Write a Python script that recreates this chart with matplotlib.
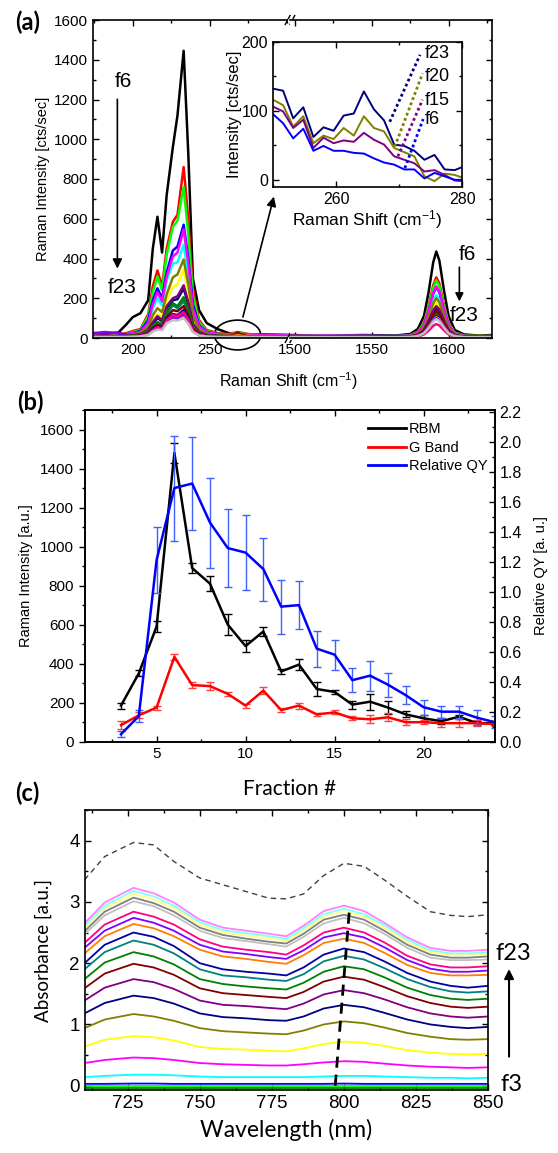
import matplotlib
matplotlib.use("Agg")
import matplotlib.pyplot as plt
from matplotlib.patches import Ellipse
from matplotlib.lines import Line2D
from matplotlib.ticker import MultipleLocator, FixedLocator, FormatStrFormatter

plt.rcParams['font.family'] = ['Liberation Sans', 'DejaVu Sans']
plt.rcParams['mathtext.fontset'] = 'custom'
plt.rcParams['mathtext.rm'] = 'Liberation Sans'
plt.rcParams['mathtext.it'] = 'Liberation Sans:italic'
CAL = ['Lato', 'DejaVu Sans']

# ---------------- (a) Raman spectra, fractions f6..f23 ----------------
raman_fracs = ['f6', 'f7', 'f8', 'f9', 'f10', 'f11', 'f12', 'f13', 'f14',
               'f15', 'f16', 'f17', 'f18', 'f19', 'f20', 'f21', 'f22', 'f23']
rbm_shift = [175, 182, 190, 196, 200, 205, 210, 213, 216, 219, 222, 226,
             229, 233, 236, 239, 243, 248, 255, 262, 268, 275, 285, 302]
rbm_spectra = [
    [18, 22, 22, 70, 105, 125, 190, 450, 610, 430, 720, 960, 1120, 1445, 930, 300, 140, 75, 45, 25, 20, 15, 18, 15],
    [15, 12, 15, 25, 35, 45, 120, 260, 340, 260, 450, 585, 620, 860, 600, 250, 90, 40, 25, 20, 30, 20, 15, 15],
    [12, 15, 12, 20, 30, 40, 110, 230, 310, 240, 420, 560, 590, 760, 520, 215, 80, 35, 22, 18, 25, 18, 12, 15],
    [10, 12, 15, 18, 25, 35, 90, 190, 250, 200, 330, 440, 460, 570, 400, 170, 65, 30, 20, 15, 20, 15, 12, 10],
    [12, 10, 12, 15, 20, 28, 70, 150, 200, 165, 290, 375, 380, 470, 320, 130, 50, 25, 18, 15, 18, 12, 10, 10],
    [20, 15, 18, 20, 25, 30, 80, 170, 230, 185, 310, 410, 430, 545, 380, 150, 60, 28, 20, 18, 22, 15, 15, 12],
    [10, 10, 12, 12, 15, 20, 45, 95, 120, 110, 190, 255, 270, 345, 230, 90, 35, 18, 12, 10, 12, 10, 8, 8],
    [10, 12, 10, 12, 18, 25, 55, 115, 150, 130, 220, 305, 320, 395, 270, 110, 42, 22, 15, 12, 15, 10, 10, 8],
    [10, 8, 10, 12, 12, 15, 35, 72, 100, 85, 150, 190, 195, 250, 170, 68, 28, 14, 10, 8, 10, 8, 8, 8],
    [25, 20, 28, 15, 15, 18, 40, 80, 110, 90, 160, 200, 210, 265, 180, 72, 30, 15, 10, 10, 12, 8, 8, 8],
    [8, 8, 8, 10, 10, 14, 28, 55, 70, 65, 120, 165, 150, 185, 130, 52, 22, 12, 8, 8, 12, 8, 6, 6],
    [10, 8, 10, 10, 12, 15, 30, 60, 80, 70, 130, 175, 160, 205, 140, 56, 24, 12, 8, 8, 8, 6, 6, 6],
    [8, 8, 8, 8, 10, 12, 25, 50, 65, 58, 105, 140, 135, 160, 115, 46, 20, 10, 8, 6, 25, 6, 6, 6],
    [6, 6, 6, 8, 8, 10, 22, 44, 60, 52, 95, 120, 115, 140, 100, 40, 18, 10, 6, 6, 6, 5, 5, 5],
    [5, 5, 5, 6, 6, 8, 16, 35, 45, 42, 80, 98, 95, 110, 78, 32, 14, 8, 5, 5, 15, 5, 5, 5],
    [25, 30, 25, 6, 8, 10, 18, 38, 50, 45, 85, 105, 100, 120, 85, 35, 15, 8, 6, 5, 6, 5, 5, 5],
    [6, 6, 6, 6, 8, 10, 20, 40, 55, 48, 90, 115, 110, 130, 92, 38, 16, 8, 6, 5, 6, 5, 5, 5],
    [5, 5, 5, 5, 6, 8, 15, 32, 42, 40, 75, 90, 88, 100, 72, 30, 13, 7, 5, 5, 5, 5, 5, 5],
]
g_shift = [1497, 1520, 1545, 1565, 1575, 1580, 1584, 1587, 1590, 1592, 1594,
           1597, 1600, 1604, 1610, 1620, 1628]
g_spectra = [
    [15, 12, 15, 12, 20, 45, 110, 230, 380, 435, 390, 240, 110, 40, 18, 12, 15],
    [12, 10, 12, 10, 15, 32, 78, 162, 265, 305, 275, 168, 78, 28, 12, 10, 10],
    [10, 12, 10, 10, 14, 30, 74, 155, 252, 290, 261, 160, 74, 27, 12, 10, 10],
    [10, 10, 12, 10, 12, 26, 64, 135, 222, 255, 230, 140, 64, 23, 10, 8, 10],
    [8, 10, 8, 8, 10, 22, 54, 114, 187, 215, 194, 118, 54, 20, 9, 8, 8],
    [10, 12, 10, 8, 12, 26, 65, 138, 226, 260, 234, 143, 65, 24, 10, 8, 10],
    [8, 8, 8, 8, 9, 18, 44, 93, 152, 175, 158, 96, 44, 16, 8, 6, 8],
    [8, 8, 10, 8, 10, 20, 50, 106, 174, 200, 180, 110, 50, 18, 8, 6, 8],
    [6, 8, 6, 6, 8, 15, 38, 80, 130, 150, 135, 83, 38, 14, 6, 5, 6],
    [8, 6, 8, 6, 8, 16, 40, 85, 139, 160, 144, 88, 40, 15, 7, 5, 6],
    [6, 6, 6, 5, 7, 13, 33, 69, 113, 130, 117, 72, 33, 12, 6, 5, 5],
    [6, 5, 6, 5, 6, 13, 31, 66, 109, 125, 113, 69, 31, 11, 6, 5, 5],
    [5, 6, 5, 5, 7, 14, 34, 72, 117, 135, 122, 74, 34, 12, 6, 5, 5],
    [5, 5, 5, 5, 6, 11, 28, 58, 96, 110, 99, 61, 28, 10, 5, 4, 5],
    [5, 5, 5, 4, 5, 11, 26, 56, 91, 105, 95, 58, 26, 10, 5, 4, 5],
    [5, 4, 5, 4, 5, 10, 25, 53, 87, 100, 90, 55, 25, 9, 4, 4, 4],
    [4, 4, 4, 3, 4, 7, 18, 37, 61, 70, 63, 39, 18, 6, 3, 3, 3],
    [4, 4, 4, 4, 5, 9, 24, 50, 83, 95, 86, 52, 24, 9, 4, 4, 4],
]
raman_colors = ['black', '#FF0000', '#00FF00', '#0000FF', '#00FFFF', '#FF00FF',
                '#FFFF00', '#808000', '#000080', '#800080', '#008080', '#008000',
                '#800000', '#0000A0', '#FF8000', '#8000FF', '#FF0080', '#C0C0C0']

# inset: zoom of the 250-280 region
inset_shift = [250, 251.6, 253.2, 254.8, 256.4, 258.0, 259.6, 261.2, 262.8, 264.4,
               266.0, 267.6, 269.2, 270.8, 272.4, 274.0, 275.6, 277.2, 278.8, 280.4]
inset_labels = ['f23', 'f20', 'f15', 'f6']
inset_f23 = [132, 129, 89, 105, 62, 76, 71, 93, 96, 128, 102, 86, 51, 49, 42, 29, 36, 15, 14, 20]
inset_f20 = [116, 108, 77, 92, 53, 64, 59, 75, 64, 92, 75, 70, 46, 40, 34, 5, -2, 9, 7, 2]
inset_f15 = [106, 99, 75, 87, 46, 61, 53, 57, 55, 68, 58, 51, 34, 29, 24, 12, 14, 7, -1, -2]
inset_f6 = [95, 82, 60, 74, 42, 49, 42, 42, 39, 38, 31, 25, 22, 15, 15, 2, 10, 5, 0, 0]
inset_colors = ['#000080', '#808000', '#800080', '#0000FF']

# ---------------- (b) intensities vs fraction ----------------
fraction = [3, 4, 5, 6, 7, 8, 9, 10, 11, 12, 13, 14, 15, 16, 17, 18, 19, 20, 21, 22, 23, 24]
rbm_int = [185, 350, 590, 1480, 890, 810, 600, 490, 565, 360, 395, 270, 255, 190, 205, 175, 140, 120, 105, 128, 95, 95]
rbm_err = [15, 15, 30, 50, 25, 40, 55, 30, 25, 15, 30, 35, 10, 20, 40, 35, 15, 15, 15, 10, 10, 10]
g_int = [85, 135, 175, 435, 290, 285, 245, 185, 262, 162, 185, 140, 150, 120, 115, 125, 100, 100, 95, 95, 95, 90]
g_err = [20, 15, 10, 15, 15, 20, 10, 10, 20, 10, 15, 8, 10, 10, 20, 20, 15, 10, 20, 20, 15, 10]
qy = [0.05, 0.17, 1.21, 1.69, 1.72, 1.46, 1.29, 1.26, 1.15, 0.90, 0.91, 0.62, 0.58, 0.41, 0.44, 0.38, 0.31, 0.23, 0.20, 0.20, 0.16, 0.13]
qy_err = [0.02, 0.04, 0.22, 0.35, 0.31, 0.30, 0.26, 0.25, 0.21, 0.18, 0.16, 0.12, 0.10, 0.08, 0.10, 0.08, 0.06, 0.05, 0.04, 0.04, 0.05, 0.04]

# ---------------- (c) absorbance, fractions f3..f23 ----------------
wavelength = [710, 717, 727, 734, 741, 750, 758, 766, 774, 780,
              786, 793, 800, 807, 814, 822, 830, 837, 843, 850]
abs_spectra = [
    [-0.03, -0.03, -0.03, -0.03, -0.03, -0.03, -0.03, -0.03, -0.03, -0.03, -0.03, -0.03, -0.03, -0.03, -0.03, -0.03, -0.03, -0.03, -0.03, -0.03],
    [0.0, 0.0, 0.0, 0.0, 0.0, 0.0, 0.0, 0.0, 0.0, 0.0, 0.0, 0.0, 0.0, 0.0, 0.0, 0.0, 0.0, 0.0, 0.0, 0.0],
    [0.03, 0.03, 0.035, 0.035, 0.03, 0.03, 0.03, 0.03, 0.03, 0.03, 0.03, 0.03, 0.035, 0.03, 0.03, 0.03, 0.03, 0.03, 0.03, 0.03],
    [0.14, 0.16, 0.18, 0.18, 0.17, 0.15, 0.14, 0.14, 0.14, 0.14, 0.14, 0.15, 0.16, 0.16, 0.15, 0.14, 0.13, 0.13, 0.12, 0.13],
    [0.37, 0.42, 0.46, 0.45, 0.42, 0.37, 0.35, 0.34, 0.33, 0.33, 0.35, 0.38, 0.40, 0.39, 0.36, 0.33, 0.31, 0.30, 0.29, 0.30],
    [0.64, 0.75, 0.81, 0.79, 0.74, 0.63, 0.60, 0.59, 0.57, 0.56, 0.61, 0.68, 0.72, 0.70, 0.65, 0.58, 0.54, 0.52, 0.51, 0.52],
    [0.94, 1.08, 1.17, 1.13, 1.06, 0.94, 0.89, 0.87, 0.85, 0.84, 0.90, 1.00, 1.05, 1.02, 0.95, 0.86, 0.80, 0.76, 0.75, 0.76],
    [1.18, 1.35, 1.47, 1.43, 1.34, 1.18, 1.12, 1.10, 1.07, 1.06, 1.13, 1.26, 1.32, 1.28, 1.19, 1.08, 1.00, 0.96, 0.94, 0.96],
    [1.39, 1.60, 1.74, 1.69, 1.58, 1.39, 1.32, 1.30, 1.27, 1.25, 1.34, 1.49, 1.56, 1.51, 1.41, 1.28, 1.18, 1.13, 1.11, 1.13],
    [1.59, 1.83, 1.99, 1.93, 1.81, 1.59, 1.51, 1.48, 1.45, 1.43, 1.53, 1.70, 1.78, 1.73, 1.61, 1.46, 1.35, 1.29, 1.27, 1.29],
    [1.74, 2.01, 2.18, 2.11, 1.98, 1.74, 1.66, 1.62, 1.59, 1.57, 1.68, 1.86, 1.95, 1.90, 1.77, 1.60, 1.48, 1.42, 1.40, 1.42],
    [1.90, 2.18, 2.37, 2.30, 2.16, 1.90, 1.80, 1.77, 1.73, 1.71, 1.82, 2.03, 2.12, 2.06, 1.92, 1.74, 1.61, 1.54, 1.52, 1.54],
    [2.00, 2.30, 2.50, 2.43, 2.28, 2.00, 1.90, 1.86, 1.83, 1.80, 1.93, 2.14, 2.24, 2.18, 2.03, 1.84, 1.70, 1.63, 1.60, 1.63],
    [2.16, 2.44, 2.64, 2.57, 2.44, 2.22, 2.11, 2.07, 2.02, 1.99, 2.13, 2.33, 2.40, 2.33, 2.17, 1.97, 1.84, 1.80, 1.80, 1.81],
    [2.25, 2.53, 2.74, 2.66, 2.53, 2.30, 2.19, 2.15, 2.10, 2.07, 2.21, 2.42, 2.49, 2.42, 2.26, 2.05, 1.91, 1.86, 1.86, 1.88],
    [2.33, 2.63, 2.84, 2.76, 2.63, 2.39, 2.27, 2.22, 2.18, 2.14, 2.29, 2.50, 2.58, 2.50, 2.34, 2.12, 1.98, 1.93, 1.93, 1.95],
    [2.47, 2.78, 3.01, 2.93, 2.78, 2.53, 2.41, 2.36, 2.31, 2.27, 2.43, 2.65, 2.74, 2.65, 2.48, 2.25, 2.09, 2.05, 2.05, 2.06],
    [2.52, 2.84, 3.07, 2.98, 2.84, 2.58, 2.46, 2.40, 2.35, 2.32, 2.48, 2.71, 2.79, 2.71, 2.53, 2.30, 2.14, 2.09, 2.09, 2.11],
    [2.57, 2.90, 3.13, 3.04, 2.90, 2.63, 2.50, 2.45, 2.40, 2.36, 2.53, 2.76, 2.85, 2.76, 2.58, 2.34, 2.18, 2.13, 2.13, 2.15],
    [2.61, 2.94, 3.18, 3.09, 2.94, 2.67, 2.54, 2.49, 2.44, 2.40, 2.57, 2.80, 2.89, 2.80, 2.62, 2.38, 2.21, 2.16, 2.16, 2.18],
    [2.65, 2.99, 3.23, 3.14, 2.99, 2.71, 2.58, 2.53, 2.48, 2.44, 2.61, 2.85, 2.94, 2.85, 2.66, 2.42, 2.25, 2.20, 2.20, 2.22],
]
abs_colors = ['#008000', '#00FF00', '#0000FF', '#00FFFF', '#FF00FF', '#FFFF00',
              '#808000', '#000080', '#800080', '#800000', '#008000', '#008080',
              '#0000A0', '#FF8000', '#8000FF', '#FF0080', '#C0C0C0', '#808080',
              '#FFFF80', '#80FFFF', '#FF80FF']
abs_dashed = [3.36, 3.74, 3.97, 3.93, 3.66, 3.39, 3.28, 3.17, 3.06, 3.05,
              3.13, 3.43, 3.63, 3.58, 3.36, 3.09, 2.84, 2.78, 2.76, 2.79]
peak_wl = [797, 802]
peak_abs = [0.0, 2.92]


def style_axes(ax, size=10):
    ax.tick_params(which='both', direction='in', top=True, right=True, labelsize=size)
    ax.tick_params(which='major', length=4.5, width=1)
    ax.tick_params(which='minor', length=2.5, width=1)
    for s in ax.spines.values():
        s.set_linewidth(1.2)


fig = plt.figure(figsize=(5.58, 11.53), dpi=100)
W, H = 558.0, 1153.0


def box(x0, y0, x1, y1):
    # pixel box (left, top, right, bottom) -> figure fraction
    return [x0 / W, 1 - y1 / H, (x1 - x0) / W, (y1 - y0) / H]


# ---- panel (a) ----
ax_l = fig.add_axes(box(92.7, 20, 290, 338))
ax_r = fig.add_axes(box(290, 20, 491.7, 338), sharey=ax_l)
for row, col in zip(rbm_spectra, raman_colors):
    ax_l.plot(rbm_shift, row, color=col, lw=1.8)
for row, col in zip(g_spectra, raman_colors):
    ax_r.plot(g_shift, row, color=col, lw=1.8)
ax_l.set_xlim(174, 302)
ax_r.set_xlim(1497, 1628)
ax_l.set_ylim(0, 1600)
for ax in (ax_l, ax_r):
    style_axes(ax, size=11)
    ax.yaxis.set_major_locator(MultipleLocator(200))
    ax.yaxis.set_minor_locator(MultipleLocator(100))
    ax.xaxis.set_minor_locator(MultipleLocator(25))
ax_l.xaxis.set_major_locator(FixedLocator([200, 250]))
ax_r.xaxis.set_major_locator(FixedLocator([1500, 1550, 1600]))
ax_l.spines['right'].set_visible(False)
ax_r.spines['left'].set_visible(False)
ax_l.tick_params(which='both', right=False)
ax_r.tick_params(which='both', left=False, labelleft=False)
ax_l.set_ylabel('Raman Intensity [cts/sec]', fontsize=10.5, labelpad=3)
fig.text(288 / W, 1 - 381 / H, 'Raman Shift (cm$^{-1}$)', ha='center', va='center', fontsize=11.5)

# break marks
for dx in (-0.012, 0.012):
    for yy in (0, 1):
        ax_l.plot([1 + dx - 0.012, 1 + dx + 0.012], [yy - 0.014, yy + 0.014],
                  transform=ax_l.transAxes, color='k', lw=1, clip_on=False)
for yy in (0, 1):
    ax_l.plot([0.996, 1.004], [yy, yy], transform=ax_l.transAxes, color='white',
              lw=2, clip_on=False, zorder=5)

ax_l.annotate('', xy=(190, 335), xytext=(190, 1215),
              arrowprops=dict(arrowstyle='-|>', color='k', lw=1.2, mutation_scale=14))
ax_l.text(194, 1290, 'f6', fontsize=15, ha='center', va='center')
ax_l.text(193, 255, 'f23', fontsize=15, ha='center', va='center')
ax_r.annotate('', xy=(1607, 170), xytext=(1607, 370),
              arrowprops=dict(arrowstyle='-|>', color='k', lw=1.2, mutation_scale=12))
ax_r.text(1612, 420, 'f6', fontsize=15, ha='center', va='center')
ax_r.text(1610, 115, 'f23', fontsize=15, ha='center', va='center')
ax_l.add_patch(Ellipse((268, 15), 30, 150, fill=False, color='k', lw=1.2, clip_on=False))
ax_l.annotate('', xy=(292, 725), xytext=(271, 92),
              arrowprops=dict(arrowstyle='-|>', color='k', lw=1.2, mutation_scale=14),
              annotation_clip=False)

# inset
ax_in = fig.add_axes(box(273, 41.7, 462.3, 186.7))
for row, col in zip([inset_f23, inset_f20, inset_f15, inset_f6], inset_colors):
    ax_in.plot(inset_shift, row, color=col, lw=1.4)
ax_in.set_xlim(250, 280)
ax_in.set_ylim(-10, 200)
style_axes(ax_in, size=11.5)
ax_in.xaxis.set_major_locator(MultipleLocator(20))
ax_in.xaxis.set_minor_locator(MultipleLocator(10))
ax_in.yaxis.set_major_locator(MultipleLocator(100))
ax_in.yaxis.set_minor_locator(MultipleLocator(50))
ax_in.set_xlabel('Raman Shift (cm$^{-1}$)', fontsize=12.5, labelpad=1)
ax_in.set_ylabel('Intensity [cts/sec]', fontsize=12, labelpad=0)
lead_start = [(268.5, 84), (269.3, 48), (269.8, 34), (270.9, 17)]
lead_end = [(273.3, 181), (273.7, 154), (273.7, 116), (273.8, 88)]
label_y = [183, 150, 115, 87]
for (x0, y0), (x1, y1), ly, lab, col in zip(lead_start, lead_end, label_y, inset_labels, inset_colors):
    ax_in.plot([x0, x1], [y0, y1], ls=(0, (1, 1)), color=col, lw=2)
    ax_in.text(274.0, ly, lab, fontsize=13, ha='left', va='center')

fig.text(28 / W, 1 - 22 / H, '(a)', fontsize=17, fontweight='bold', family=CAL,
         ha='center', va='center')

# ---- panel (b) ----
ax_b = fig.add_axes(box(85.4, 410, 494.7, 741.7))
ax_b2 = ax_b.twinx()
ax_b.errorbar(fraction, rbm_int, yerr=rbm_err, color='black', lw=1.8, elinewidth=1,
              capsize=3, capthick=1)
ax_b.errorbar(fraction, g_int, yerr=g_err, color='#FF0000', lw=1.8, elinewidth=1,
              capsize=3, capthick=1, ecolor='#FF4040')
ax_b2.errorbar(fraction, qy, yerr=qy_err, color='#0000FF', lw=1.8, elinewidth=1,
               capsize=3, capthick=1, ecolor='#4060FF')
ax_b.set_xlim(1, 24)
ax_b.set_ylim(0, 1700)
ax_b2.set_ylim(0, 2.21)
ax_b.xaxis.set_major_locator(MultipleLocator(5))
ax_b.xaxis.set_minor_locator(MultipleLocator(2.5))
ax_b.yaxis.set_major_locator(MultipleLocator(200))
ax_b.yaxis.set_minor_locator(MultipleLocator(100))
ax_b2.yaxis.set_major_locator(MultipleLocator(0.2))
ax_b2.yaxis.set_minor_locator(MultipleLocator(0.1))
ax_b.tick_params(which='both', labelsize=11, top=True, right=False)
ax_b.tick_params(which='both', axis='y', direction='out')
ax_b.tick_params(which='both', axis='x', direction='in')
ax_b.tick_params(which='major', length=4.5, width=1)
ax_b.tick_params(which='minor', length=2.5, width=1)
ax_b2.tick_params(which='both', direction='in', labelsize=11.5)
ax_b2.tick_params(which='major', length=4.5, width=1)
ax_b2.tick_params(which='minor', length=2.5, width=1)
ax_b2.yaxis.set_major_formatter(FormatStrFormatter('%.1f'))
for s in list(ax_b.spines.values()) + list(ax_b2.spines.values()):
    s.set_linewidth(1.2)
ax_b.set_ylabel('Raman Intensity [a.u.]', fontsize=10.5, labelpad=5)
ax_b2.set_ylabel('Relative QY [a. u.]', fontsize=10.5, labelpad=9)
ax_b.set_xlabel('Fraction #', fontsize=15, family=CAL, labelpad=13)
handles = [Line2D([], [], color='black', lw=2), Line2D([], [], color='#FF0000', lw=2),
           Line2D([], [], color='#0000FF', lw=2)]
ax_b2.legend(handles, ['RBM', 'G Band', 'Relative QY'], loc='upper right',
             bbox_to_anchor=(1.0, 0.985), frameon=False, fontsize=10.5,
             handlelength=2.6, handletextpad=0.2, labelspacing=0.3, borderaxespad=0.1)
fig.text(30 / W, 1 - 402 / H, '(b)', fontsize=17, fontweight='bold', family=CAL,
         ha='center', va='center')

# ---- panel (c) ----
ax_c = fig.add_axes(box(84.5, 810, 488, 1090))
ax_c.plot(wavelength, abs_dashed, color='#404040', lw=1, ls=(0, (4, 3)))
for row, col in zip(abs_spectra, abs_colors):
    ax_c.plot(wavelength, row, color=col, lw=1.3)
ax_c.plot(peak_wl, peak_abs, color='black', lw=2, ls=(0, (4, 2.5)))
ax_c.set_xlim(710, 850)
ax_c.set_ylim(-0.07, 4.5)
style_axes(ax_c, size=13.5)
ax_c.xaxis.set_major_locator(MultipleLocator(25))
ax_c.xaxis.set_minor_locator(MultipleLocator(12.5))
ax_c.yaxis.set_major_locator(MultipleLocator(1))
ax_c.yaxis.set_minor_locator(MultipleLocator(0.5))
ax_c.set_xlabel('Wavelength (nm)', fontsize=16.5, family=CAL, labelpad=5)
ax_c.set_ylabel('Absorbance [a.u.]', fontsize=13.5, family=CAL, labelpad=12)
ax_c.text(852.5, 2.15, 'f23', fontsize=17, family=CAL, ha='left', va='center', clip_on=False)
ax_c.text(854.5, 0.02, 'f3', fontsize=17, family=CAL, ha='left', va='center', clip_on=False)
ax_c.annotate('', xy=(857.3, 1.95), xytext=(857.3, 0.43),
              arrowprops=dict(arrowstyle='-|>', color='k', lw=1.5, mutation_scale=14),
              annotation_clip=False)
fig.text(27 / W, 1 - 793 / H, '(c)', fontsize=17, fontweight='bold', family=CAL,
         ha='center', va='center')

fig.savefig('out.png', dpi=100)
